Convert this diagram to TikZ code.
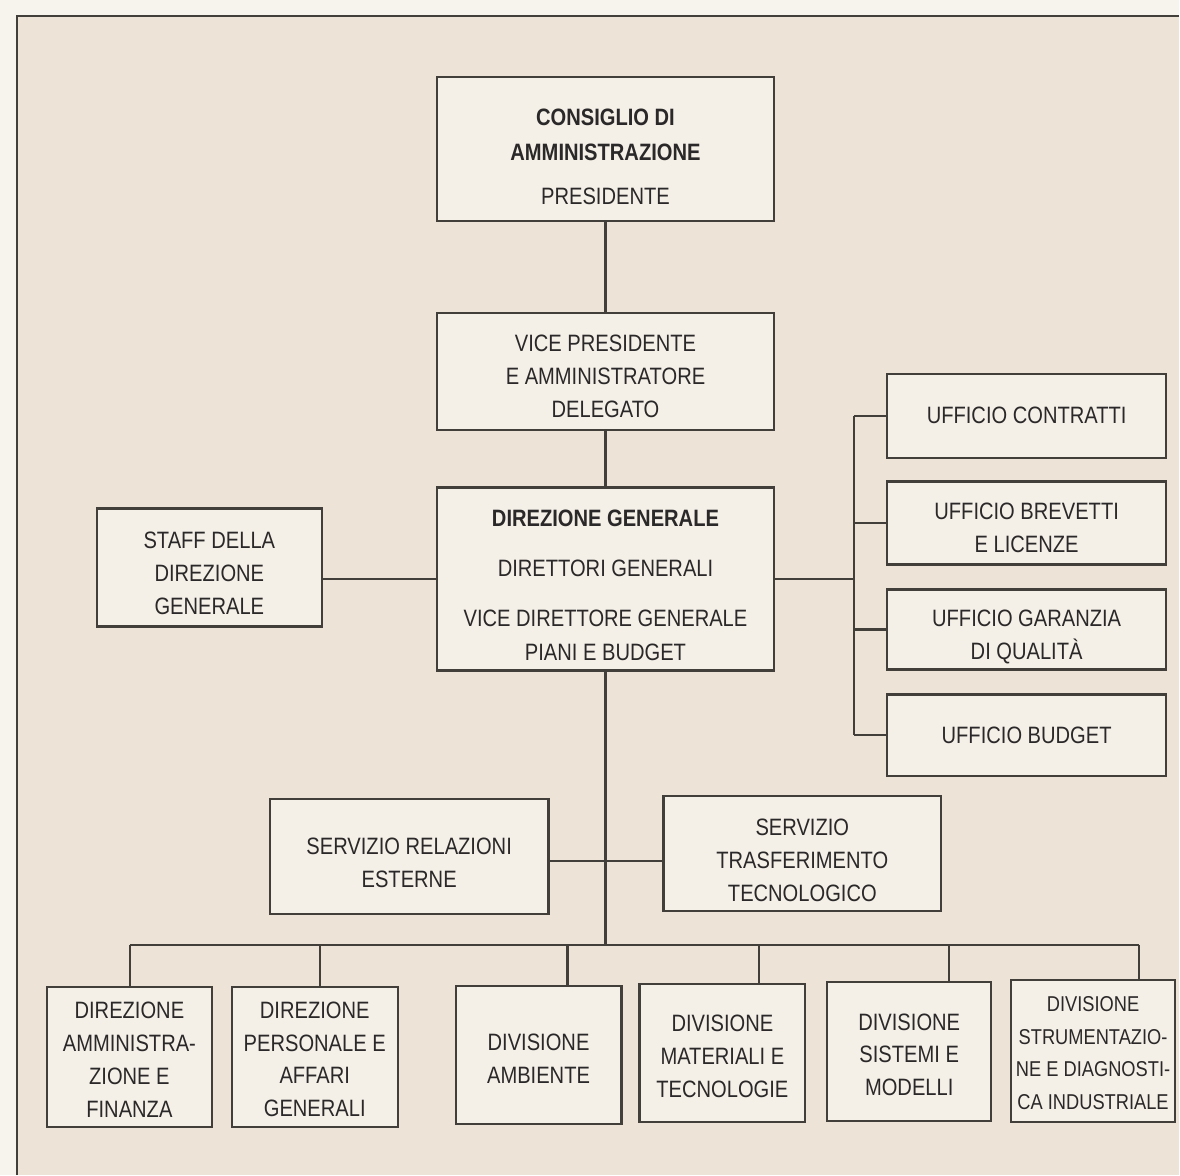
\documentclass[tikz,border=0pt]{standalone}
\usepackage{fontspec}
\setmainfont{Liberation Sans}[FakeStretch=0.85]
\definecolor{bg}{RGB}{237,227,214}
\definecolor{boxfill}{RGB}{244,239,231}
\definecolor{edge}{RGB}{66,62,58}
\definecolor{ink}{RGB}{42,40,40}
\definecolor{outside}{RGB}{247,244,237}
\newcommand\dn[1]{\rule{0pt}{\dimexpr17pt+#1\relax}}
\begin{document}
\begin{tikzpicture}[x=1pt,y=-1pt,
  box/.style={draw=edge, line width=2.2pt, fill=boxfill, text=ink, align=center, inner sep=0pt,
    font=\fontsize{23.7}{33}\selectfont},
  sz/.style 2 args={minimum width=#1pt, minimum height=#2pt},
  wire/.style={draw=edge, line width=2.2pt},
  smalltext/.style={font=\fontsize{21.5}{33}\selectfont}]
\fill[outside] (0,0) rectangle (1180,1176);
\fill[bg] (17,16) rectangle (1180,1176);
\draw[edge, line width=2pt] (17,1176) -- (17,16) -- (1180,16);
\useasboundingbox (0,0) rectangle (1180,1176);

% top chain
\node[box, sz={337}{144}] (cda) at (606,149)
  {\dn{16pt}\textbf{CONSIGLIO DI}\\[2pt]\textbf{AMMINISTRAZIONE}\\[11pt]PRESIDENTE};
\node[box, sz={337}{117}] (vp) at (606,371.5)
  {\dn{10pt}VICE PRESIDENTE\\E AMMINISTRATORE\\DELEGATO};
\node[box, sz={337}{183}] (dg) at (606,579.5)
  {\dn{12pt}\textbf{DIREZIONE GENERALE}\\[17pt]DIRETTORI GENERALI\\[17pt]VICE DIRETTORE GENERALE\\[1pt]PIANI E BUDGET};
\node[box, sz={225}{118}] (staff) at (209.5,568)
  {\dn{12pt}STAFF DELLA\\DIREZIONE\\GENERALE};

% offices on the right
\node[box, sz={279}{84}] (uc) at (1027.5,416) {UFFICIO CONTRATTI};
\node[box, sz={279}{83}] (ub) at (1027.5,523.5) {\dn{10pt}UFFICIO BREVETTI\\E LICENZE};
\node[box, sz={279}{80}] (ug) at (1027.5,630) {\dn{14pt}UFFICIO GARANZIA\\DI QUALITÀ};
\node[box, sz={279}{82}] (ubud) at (1027.5,736) {UFFICIO BUDGET};

% services
\node[box, sz={279}{115}] (sre) at (409.5,857.5) {\dn{12pt}SERVIZIO RELAZIONI\\ESTERNE};
\node[box, sz={278}{115}] (stt) at (803,854.5) {\dn{12pt}SERVIZIO\\TRASFERIMENTO\\TECNOLOGICO};

% bottom row
\node[box, sz={165}{140}] (d1) at (129.5,1058) {\dn{4pt}DIREZIONE\\AMMINISTRA-\\ZIONE E\\FINANZA};
\node[box, sz={166}{140}] (d2) at (315,1058) {\dn{4pt}DIREZIONE\\PERSONALE E\\AFFARI\\GENERALI};
\node[box, sz={166}{138}] (d3) at (539,1056) {\dn{6pt}DIVISIONE\\AMBIENTE};
\node[box, sz={166}{138}] (d4) at (723,1054) {\dn{6pt}DIVISIONE\\MATERIALI E\\TECNOLOGIE};
\node[box, sz={164}{139}] (d5) at (910,1052.5) {\dn{6pt}DIVISIONE\\SISTEMI E\\MODELLI};
\node[box, smalltext, sz={164}{142}] (d6) at (1094,1052) {\dn{2pt}DIVISIONE\\STRUMENTAZIO-\\NE E DIAGNOSTI-\\CA INDUSTRIALE};

% connectors: top chain
\draw[wire] (cda) -- (vp);
\draw[wire] (vp) -- (dg);
\draw[wire] (dg.west) -- (dg.west -| staff.east);

% right bus
\coordinate (rb) at (855,579.5);
\draw[wire] (dg.east) -- (rb);
\draw[wire] (uc.west -| rb) -- (ubud.west -| rb);
\draw[wire] (uc.west -| rb) -- (uc.west);
\draw[wire] (ub.west -| rb) -- (ub.west);
\draw[wire] (ug.west -| rb) -- (ug.west);
\draw[wire] (ubud.west -| rb) -- (ubud.west);

% spine and services
\coordinate (bus) at (606,946);
\coordinate (mid) at (606,862);
\draw[wire] (dg.south) -- (bus);
\draw[wire] (mid -| sre.east) -- (mid -| stt.west);

% bottom bus
\coordinate (s1) at (130,946);
\coordinate (s2) at (320,946);
\coordinate (s3) at (568,946);
\coordinate (s4) at (760,946);
\coordinate (s5) at (950,946);
\coordinate (s6) at (1140,946);
\draw[wire] (s1) -- (s6);
\draw[wire] (s1) -- (s1 |- d1.north);
\draw[wire] (s2) -- (s2 |- d2.north);
\draw[wire] (s3) -- (s3 |- d3.north);
\draw[wire] (s4) -- (s4 |- d4.north);
\draw[wire] (s5) -- (s5 |- d5.north);
\draw[wire] (s6) -- (s6 |- d6.north);
\end{tikzpicture}
\end{document}
